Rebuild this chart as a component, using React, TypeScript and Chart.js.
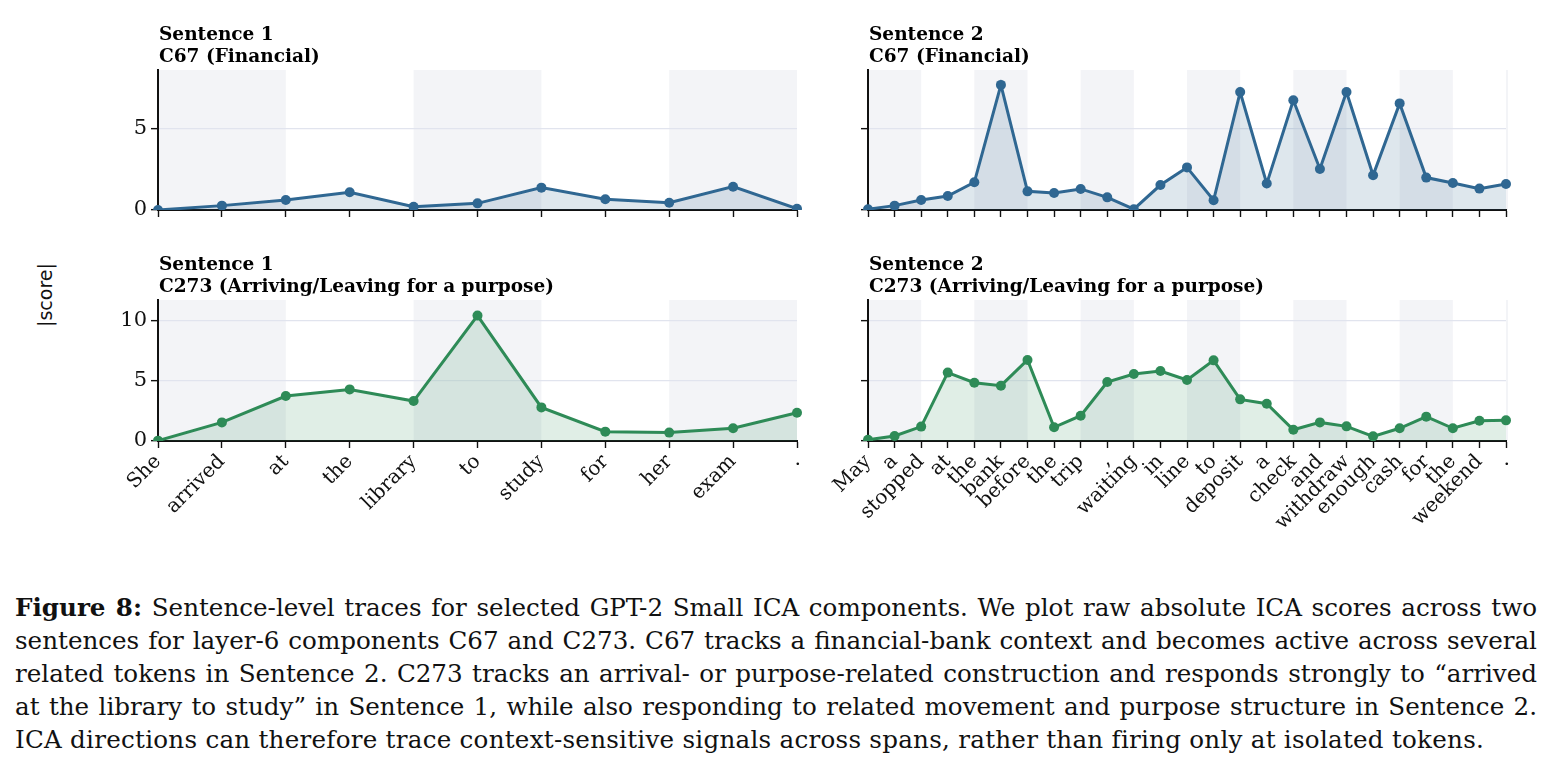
import React, { useEffect, useRef } from "react";
import { Chart, registerables } from "chart.js";

Chart.register(...registerables);

// ---------------- data ----------------
const sentence1Tokens = ["She", "arrived", "at", "the", "library", "to", "study", "for", "her", "exam", "."];
const sentence2Tokens = [
  "May", "a", "stopped", "at", "the", "bank", "before", "the", "trip", ",", "waiting", "in", "line",
  "to", "deposit", "a", "check", "and", "withdraw", "enough", "cash", "for", "the", "weekend", ".",
];
const c67Sentence1 = [0.0, 0.27, 0.62, 1.09, 0.2, 0.41, 1.38, 0.66, 0.45, 1.44, 0.08];
const c67Sentence2 = [
  0.05, 0.27, 0.62, 0.86, 1.71, 7.72, 1.15, 1.05, 1.3, 0.78, 0.05, 1.54, 2.63,
  0.6, 7.28, 1.63, 6.77, 2.53, 7.28, 2.14, 6.58, 2.0, 1.67, 1.32, 1.6,
];
const c273Sentence1 = [0.03, 1.55, 3.75, 4.3, 3.33, 10.45, 2.8, 0.78, 0.7, 1.06, 2.36];
const c273Sentence2 = [
  0.1, 0.42, 1.2, 5.7, 4.86, 4.61, 6.75, 1.14, 2.11, 4.92, 5.58, 5.83, 5.08,
  6.72, 3.47, 3.11, 0.94, 1.55, 1.22, 0.39, 1.06, 2.03, 1.06, 1.69, 1.72,
];
const c67YMax = 8.64;
const c273YMax = 11.75;
const yTickStep = 5;

const captionLines = [
  "Sentence-level traces for selected GPT-2 Small ICA components. We plot raw absolute ICA scores across two",
  "sentences for layer-6 components C67 and C273. C67 tracks a financial-bank context and becomes active across several",
  "related tokens in Sentence 2. C273 tracks an arrival- or purpose-related construction and responds strongly to \u201Carrived",
  "at the library to study\u201D in Sentence 1, while also responding to related movement and purpose structure in Sentence 2.",
  "ICA directions can therefore trace context-sensitive signals across spans, rather than firing only at isolated tokens.",
];

// ---------------- styles ----------------
const BLUE = "#2f6792";
const BLUE_FILL = "rgba(47,103,146,0.16)";
const GREEN = "#2e8b57";
const GREEN_FILL = "rgba(46,139,87,0.15)";
const BAND = "#f3f4f7";
const GRID = "#e1e4ee";
const SERIF = "'DejaVu Serif', serif";

const Y_W = 70;
const PAD_TOP = 60;
const PAD_R = 14;

type PanelProps = {
  labels: string[];
  values: number[];
  color: string;
  fill: string;
  title: string[];
  ymax: number;
  showY: boolean;
  showX: boolean;
  L: number;
  T: number;
  R: number;
  B: number;
};

const decoPlugin = {
  id: "panelDeco",
  beforeDraw(chart: any, _args: any, opts: any) {
    const { ctx, chartArea } = chart;
    const xs = chart.scales.x;
    const n = opts.n;
    ctx.save();
    ctx.fillStyle = BAND;
    for (let s = 0; s < n; s += 4) {
      const e = Math.min(s + 2, n - 1);
      const x0 = xs.getPixelForValue(s);
      const x1 = xs.getPixelForValue(e);
      const w = Math.max(x1 - x0, s === n - 1 ? 2 : 0);
      if (w > 0) ctx.fillRect(x0, chartArea.top, w, chartArea.bottom - chartArea.top);
    }
    ctx.restore();
  },
  afterDraw(chart: any, _args: any, opts: any) {
    const { ctx, chartArea } = chart;
    ctx.save();
    ctx.fillStyle = "#000";
    ctx.font = `bold 18.5px ${SERIF}`;
    ctx.textAlign = "left";
    ctx.textBaseline = "alphabetic";
    const lines: string[] = opts.title || [];
    lines.forEach((t, i) => {
      ctx.fillText(t, chartArea.left + 1, chartArea.top - 8 - (lines.length - 1 - i) * 22);
    });
    ctx.restore();
  },
};

function Panel(p: PanelProps) {
  const ref = useRef<HTMLCanvasElement | null>(null);
  const xH = p.showX ? 120 : 10;
  const width = p.R - p.L + Y_W + PAD_R;
  const height = PAD_TOP + (p.B - p.T) + xH;

  useEffect(() => {
    if (!ref.current) return;
    const chart = new Chart(ref.current, {
      type: "line",
      data: {
        labels: p.labels,
        datasets: [
          {
            data: p.values,
            borderColor: p.color,
            backgroundColor: p.fill,
            fill: "origin",
            borderWidth: 3,
            pointRadius: 5,
            pointBackgroundColor: p.color,
            pointBorderWidth: 0,
            tension: 0,
          },
        ],
      },
      options: {
        responsive: false,
        animation: false,
        layout: { padding: { left: 0, top: PAD_TOP, right: PAD_R, bottom: 0 } },
        plugins: {
          legend: { display: false },
          tooltip: { enabled: false },
          panelDeco: { n: p.labels.length, title: p.title },
        } as any,
        scales: {
          x: {
            type: "category",
            offset: false,
            grid: {
              display: true,
              drawOnChartArea: false,
              drawTicks: true,
              tickLength: 7,
              tickColor: "#111",
              tickWidth: 1.4,
            },
            border: { display: true, color: "#111", width: 2 },
            ticks: {
              autoSkip: false,
              maxRotation: 45,
              minRotation: 45,
              padding: 2,
              color: "#111",
              font: { family: SERIF, size: 20 },
              callback: function (this: any, v: any) {
                return p.showX ? this.getLabelForValue(v) : "";
              },
            },
            afterFit: (s: any) => {
              s.height = xH;
              s.paddingLeft = 0;
              s.paddingRight = 0;
            },
          },
          y: {
            type: "linear",
            min: 0,
            max: p.ymax,
            grid: {
              display: true,
              drawOnChartArea: true,
              drawTicks: true,
              tickLength: 7,
              lineWidth: 1.3,
              color: (c: any) => (c.tick && c.tick.value === 0 ? "rgba(0,0,0,0)" : GRID),
              tickColor: "#111",
              tickWidth: 1.4,
            },
            border: { display: true, color: "#111", width: 2 },
            ticks: {
              stepSize: yTickStep,
              includeBounds: false,
              padding: 4,
              color: "#111",
              font: { family: SERIF, size: 21 },
              callback: (v: any) => (p.showY ? String(v) : ""),
            },
            afterFit: (s: any) => {
              s.width = Y_W;
              s.paddingTop = 0;
              s.paddingBottom = 0;
            },
          },
        },
      } as any,
      plugins: [decoPlugin as any],
    });
    return () => chart.destroy();
  }, []);

  return (
    <canvas
      ref={ref}
      width={width}
      height={height}
      style={{ position: "absolute", left: p.L - Y_W, top: p.T - PAD_TOP, width, height }}
    />
  );
}

export default function App() {
  return (
    <div
      style={{
        position: "fixed",
        left: 0,
        top: 0,
        width: 1549,
        height: 780,
        background: "#fff",
        overflow: "hidden",
      }}
    >
      <Panel labels={sentence1Tokens} values={c67Sentence1} color={BLUE} fill={BLUE_FILL}
        title={["Sentence 1", "C67 (Financial)"]} ymax={c67YMax} showY={true} showX={false}
        L={158} T={70} R={797} B={210} />
      <Panel labels={sentence2Tokens} values={c67Sentence2} color={BLUE} fill={BLUE_FILL}
        title={["Sentence 2", "C67 (Financial)"]} ymax={c67YMax} showY={false} showX={false}
        L={868} T={70} R={1506} B={210} />
      <Panel labels={sentence1Tokens} values={c273Sentence1} color={GREEN} fill={GREEN_FILL}
        title={["Sentence 1", "C273 (Arriving/Leaving for a purpose)"]} ymax={c273YMax} showY={true} showX={true}
        L={158} T={300} R={797} B={441} />
      <Panel labels={sentence2Tokens} values={c273Sentence2} color={GREEN} fill={GREEN_FILL}
        title={["Sentence 2", "C273 (Arriving/Leaving for a purpose)"]} ymax={c273YMax} showY={false} showX={true}
        L={868} T={300} R={1506} B={441} />
      <div
        style={{
          position: "absolute",
          left: 45,
          top: 295,
          transform: "translate(-50%, -50%) rotate(-90deg)",
          fontFamily: "'DejaVu Sans', sans-serif",
          fontSize: 19,
          color: "#111",
          whiteSpace: "nowrap",
        }}
      >
        |score|
      </div>
      <div
        style={{
          position: "absolute",
          left: 15,
          top: 591,
          width: 1522,
          fontFamily: SERIF,
          fontSize: 24.6,
          lineHeight: "33px",
          color: "#111",
        }}
      >
        {captionLines.map((line, i) => (
          <div
            key={i}
            style={{
              textAlign: i < 4 ? "justify" : "left",
              textAlignLast: i < 4 ? "justify" : "left",
              whiteSpace: "nowrap",
              letterSpacing: i === 4 ? "0.25px" : undefined,
            }}
          >
            {i === 0 ? <b>Figure 8:</b> : null}
            {i === 0 ? " " : null}
            {line}
          </div>
        ))}
      </div>
    </div>
  );
}
